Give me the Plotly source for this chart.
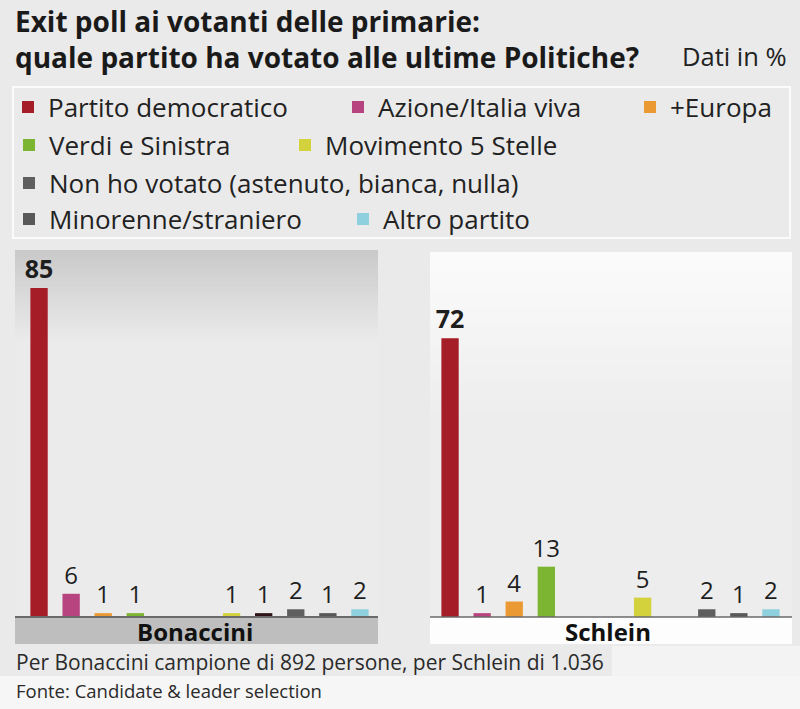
import plotly.graph_objects as go

W, H = 800, 709
FONT = "Open Sans, Liberation Sans, Arial, sans-serif"

# ---- data ----
slot_names = ["Partito democratico", "Azione/Italia viva", "+Europa", "Verdi e Sinistra",
              None, None, "Movimento 5 Stelle", None,
              "Non ho votato (astenuto, bianca, nulla)", "Minorenne/straniero", "Altro partito"]
bonaccini = [85, 6, 1, 1, None, None, 1, 1, 2, 1, 2]
schlein = [72, 1, 4, 13, None, None, 5, None, 2, 1, 2]
candidates = ["Bonaccini", "Schlein"]
bar_colors = ["#a51d26", "#b8447f", "#eb9a33", "#7cb532", "#cccccc", "#cccccc",
              "#d4d23c", "#2e1416", "#5e5e5e", "#585858", "#8fd0df"]

def px(x):
    return x / W

def py(y):
    return 1 - y / H

# legend placement (text start x, row centre y) in pixels
legend_pos = {
    "Partito democratico": (48, 107),
    "Azione/Italia viva": (378, 107),
    "+Europa": (670, 107),
    "Verdi e Sinistra": (49, 145),
    "Movimento 5 Stelle": (325, 145),
    "Non ho votato (astenuto, bianca, nulla)": (49, 183),
    "Minorenne/straniero": (49, 219),
    "Altro partito": (383, 219),
}

fig = go.Figure()
series = [bonaccini, schlein]
axes = [("x", "y"), ("x2", "y2")]
legend_ids = {}
named = [n for n in slot_names if n is not None]
for j, n in enumerate(named):
    legend_ids[n] = "legend" if j == 0 else f"legend{j+1}"

for k, vals in enumerate(series):
    for i, v in enumerate(vals):
        if v is None:
            continue
        name = slot_names[i]
        bold = (i == 0)
        fig.add_trace(go.Bar(
            x=[i], y=[v], xaxis=axes[k][0], yaxis=axes[k][1],
            marker=dict(color=bar_colors[i], line=dict(width=0)),
            width=0.54,
            text=[v],
            texttemplate="<b>%{y}</b>" if bold else "%{y}",
            textposition="outside",
            constraintext="none",
            textfont=dict(size=25 if bold else 24, color="#1e1e1e", family=FONT),
            cliponaxis=False,
            name=name if name else "",
            legendgroup=name if name else f"slot{i}",
            showlegend=(k == 0 and name is not None),
            legend=legend_ids.get(name, "legend"),
        ))

layout_legends = {}
for n, lid in legend_ids.items():
    tx, ty = legend_pos[n]
    layout_legends[lid] = dict(
        x=px(tx - 40), y=py(ty), xanchor="left", yanchor="middle",
        orientation="h", bgcolor="rgba(0,0,0,0)", borderwidth=0,
        font=dict(size=26, color="#222222", family=FONT),
        itemclick=False, itemdoubleclick=False,
    )

shapes = []
# lighter band at the bottom
shapes.append(dict(type="rect", xref="paper", yref="paper", x0=0, x1=1,
                   y0=0, y1=py(676), line=dict(width=0), fillcolor="#f6f6f6", layer="below"))
shapes.append(dict(type="rect", xref="paper", yref="paper", x0=px(612), x1=1,
                   y0=py(676), y1=py(646), line=dict(width=0), fillcolor="#f3f3f3", layer="below"))
# legend frame
shapes.append(dict(type="rect", xref="paper", yref="paper",
                   x0=px(13), x1=px(790), y0=py(238), y1=py(87),
                   line=dict(color="#fbfbfb", width=2), fillcolor="rgba(0,0,0,0)", layer="below"))

# panel backgrounds with gradients (stripes)
def gradient(x0, x1, y0, y1, c0, c1, n=24):
    out = []
    h = (y1 - y0) / n
    for s in range(n):
        t = s / (n - 1)
        c = [round(c0[q] + (c1[q] - c0[q]) * t) for q in range(3)]
        out.append(dict(type="rect", xref="paper", yref="paper",
                        x0=px(x0), x1=px(x1), y0=py(y0 + (s + 1) * h + 0.5), y1=py(y0 + s * h),
                        line=dict(width=0), fillcolor=f"rgb({c[0]},{c[1]},{c[2]})", layer="below"))
    return out

# Bonaccini panel
shapes.append(dict(type="rect", xref="paper", yref="paper", x0=px(15), x1=px(378),
                   y0=py(617), y1=py(250), line=dict(width=0), fillcolor="#ebebeb", layer="below"))
shapes += gradient(15, 378, 250, 345, (202, 202, 202), (235, 235, 235))
# Schlein panel
shapes.append(dict(type="rect", xref="paper", yref="paper", x0=px(430), x1=px(792),
                   y0=py(617), y1=py(252), line=dict(width=0), fillcolor="#ededed", layer="below"))
shapes += gradient(430, 792, 252, 420, (251, 251, 251), (237, 237, 237))
# label strips
shapes.append(dict(type="rect", xref="paper", yref="paper", x0=px(15), x1=px(378),
                   y0=py(644), y1=py(617), line=dict(width=0), fillcolor="#bebebe", layer="below"))
shapes.append(dict(type="rect", xref="paper", yref="paper", x0=px(430), x1=px(792),
                   y0=py(644), y1=py(617), line=dict(width=0), fillcolor="#fdfdfd", layer="below"))
# baselines
shapes.append(dict(type="line", xref="paper", yref="paper", x0=px(15), x1=px(378),
                   y0=py(617), y1=py(617), line=dict(color="#6a6a6a", width=2)))
shapes.append(dict(type="line", xref="paper", yref="paper", x0=px(430), x1=px(792),
                   y0=py(617), y1=py(617), line=dict(color="#6a6a6a", width=1.5)))

def ann(text, x, y, size, anchor="left", color="#1a1a1a"):
    return dict(text=text, x=px(x), y=py(y), xref="paper", yref="paper",
                xanchor=anchor, yanchor="middle", showarrow=False,
                font=dict(size=size, color=color, family=FONT))

annotations = [
    ann("<b>Exit poll ai votanti delle primarie:</b>", 13, 21, 28),
    ann("<b>quale partito ha votato alle ultime Politiche?</b>", 13, 57, 28),
    ann("Dati in %", 789, 56, 25.5, "right", "#222222"),
    ann("<b>" + candidates[0] + "</b>", 195, 631, 24, "center", "#111111"),
    ann("<b>" + candidates[1] + "</b>", 608, 631, 24, "center", "#111111"),
    ann("Per Bonaccini campione di 892 persone, per Schlein di 1.036", 14, 662, 21, "left", "#2a2a2a"),
    ann("Fonte: Candidate & leader selection", 14, 690, 18.5, "left", "#2a2a2a"),
]

ymax = (617 - 250) / 3.87
fig.update_layout(
    width=W, height=H,
    margin=dict(l=0, r=0, t=0, b=0),
    paper_bgcolor="#eaeaea", plot_bgcolor="rgba(0,0,0,0)",
    barmode="overlay",
    xaxis=dict(domain=[px(23), px(376)], range=[-0.5, 10.5], visible=False, fixedrange=True),
    yaxis=dict(domain=[py(617), py(250)], range=[0, ymax], visible=False, fixedrange=True),
    xaxis2=dict(domain=[px(434), px(787)], range=[-0.5, 10.5], visible=False, anchor="y2", fixedrange=True),
    yaxis2=dict(domain=[py(617), py(250)], range=[0, ymax], visible=False, anchor="x2", fixedrange=True),
    shapes=shapes,
    annotations=annotations,
    hovermode=False,
    **layout_legends,
)

fig.write_html("out.html", config={"displayModeBar": False},
               post_script="document.body.style.margin='0';document.body.style.overflow='hidden';")
